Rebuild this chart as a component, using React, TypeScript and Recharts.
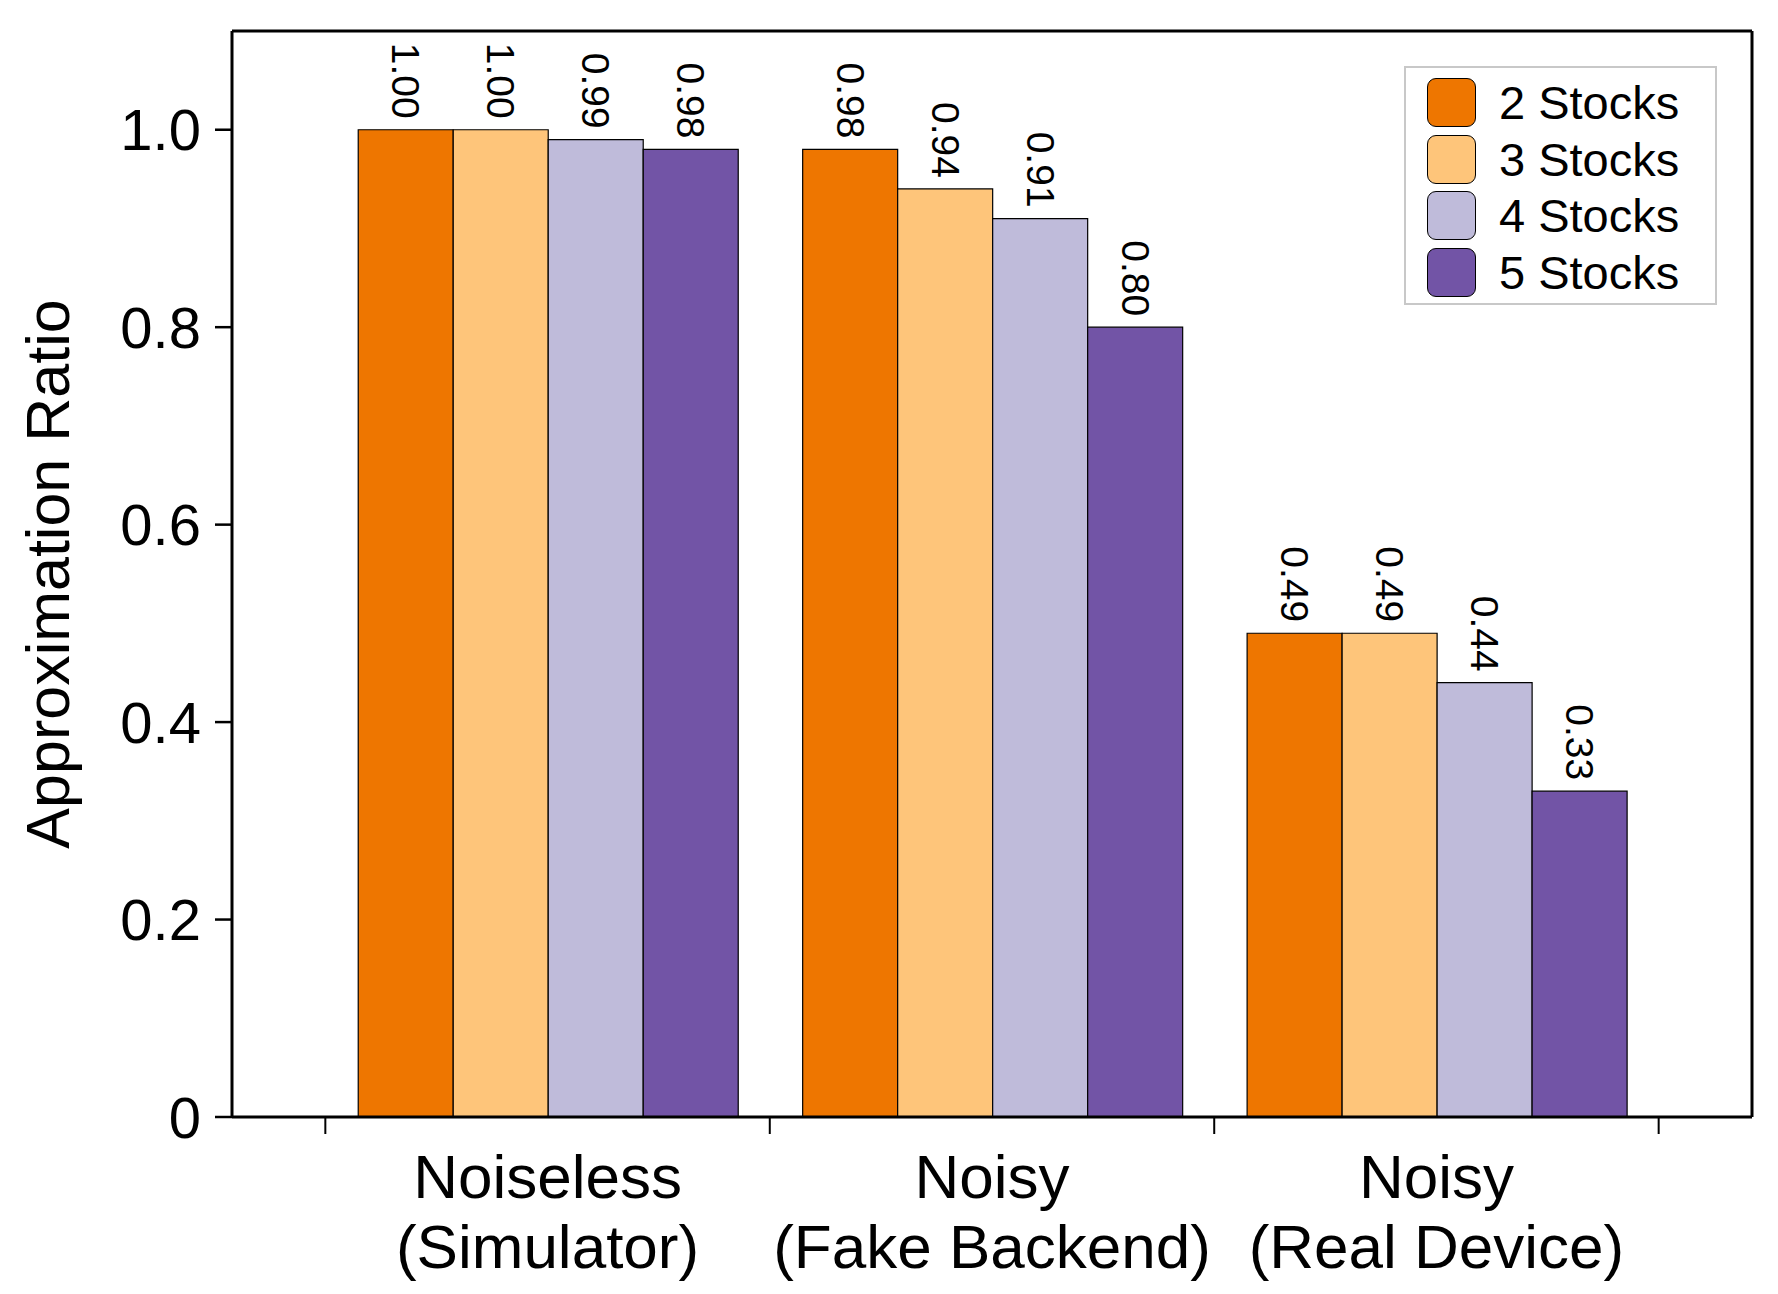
import React from 'react';
import { BarChart, Bar, Line, XAxis, YAxis, Legend, LabelList } from 'recharts';

// groups along the x axis (two-line labels)
const groupTop = ['Noiseless', 'Noisy', 'Noisy'];
const groupBottom = ['(Simulator)', '(Fake Backend)', '(Real Device)'];

// approximation ratio per number of stocks
const stocks2 = [1.0, 0.98, 0.49];
const stocks3 = [1.0, 0.94, 0.49];
const stocks4 = [0.99, 0.91, 0.44];
const stocks5 = [0.98, 0.8, 0.33];

const seriesNames = ['2 Stocks', '3 Stocks', '4 Stocks', '5 Stocks'];
const seriesKeys = ['s2', 's3', 's4', 's5'];
const seriesColors = ['#EE7600', '#FEC57A', '#BFBBDA', '#7254A6'];

const yTicks = [0, 0.2, 0.4, 0.6, 0.8, 1.0];

const data = groupTop.map((g, i) => ({
  group: `${g} ${groupBottom[i]}`,
  top: g,
  bottom: groupBottom[i],
  s2: stocks2[i],
  s3: stocks3[i],
  s4: stocks4[i],
  s5: stocks5[i],
}));

const W = 1778;
const H = 1294;
const M = { top: 30, right: 25, left: 0, bottom: 0 };
const Y_W = 232;
const X_H = 177;
const FONT = '"Liberation Sans", Arial, Helvetica, sans-serif';
const FRAME = { stroke: '#000', strokeWidth: 3 };

// empty space beside the outer groups, as a fraction of one group's band
const SIDE = 0.21;
const plotW = W - M.left - M.right - 1 - Y_W;
const band = plotW / (groupTop.length + 2 * SIDE);
const sidePx = band * SIDE;

function GroupTick(props: any) {
  const { x, y, payload, index } = props;
  const i = typeof index === 'number' ? index : payload.index;
  const row = data[i] ?? data.find((d) => d.group === payload.value);
  const left = x - band / 2;
  const right = x + band / 2;
  return (
    <g>
      <line x1={left} x2={left} y1={y} y2={y + 17} stroke="#000" strokeWidth={2} />
      {i === data.length - 1 && <line x1={right} x2={right} y1={y} y2={y + 17} stroke="#000" strokeWidth={2} />}
      <text x={x} y={y + 81} textAnchor="middle" fontSize={62} fontFamily={FONT} fill="#000">
        {row?.top}
      </text>
      <text x={x} y={y + 151} textAnchor="middle" fontSize={62} fontFamily={FONT} fill="#000">
        {row?.bottom}
      </text>
    </g>
  );
}

function YLabel(props: any) {
  const { viewBox } = props;
  const cx = viewBox.x + 48;
  const cy = viewBox.y + viewBox.height / 2;
  return (
    <text
      x={cx}
      y={cy}
      transform={`rotate(-90, ${cx}, ${cy})`}
      textAnchor="middle"
      dominantBaseline="central"
      fontSize={61}
      fontFamily={FONT}
      fill="#000"
    >
      Approximation Ratio
    </text>
  );
}

function ValueLabel(props: any) {
  const { x, y, width, value } = props;
  const cx = x + width / 2;
  const ty = y - 11;
  return (
    <text
      x={cx}
      y={ty}
      transform={`rotate(90, ${cx}, ${ty})`}
      textAnchor="end"
      dominantBaseline="central"
      fontSize={39}
      fontFamily={FONT}
      fill="#000"
    >
      {Number(value).toFixed(2)}
    </text>
  );
}

function LegendBox(props: any) {
  const items = (props.payload ?? []).filter((it: any) => it.type !== 'none');
  return (
    <div
      style={{
        border: '2.5px solid #c8c8c8',
        background: '#fff',
        padding: '6px 20px 2px 21px',
        boxSizing: 'border-box',
        width: 313,
        fontFamily: FONT,
      }}
    >
      {items.map((it: any) => (
        <div key={it.value} style={{ display: 'flex', alignItems: 'center', height: 56.7 }}>
          <div
            style={{
              width: 49,
              height: 49,
              borderRadius: 9,
              border: '1.5px solid #000',
              boxSizing: 'border-box',
              background: it.color,
            }}
          />
          <span style={{ marginLeft: 23, fontSize: 47, color: '#000', lineHeight: 1 }}>{it.value}</span>
        </div>
      ))}
    </div>
  );
}

export default function App() {
  return (
    <div style={{ width: W, height: H, background: '#fff' }}>
      <style>{'body{margin:0}'}</style>
      <BarChart width={W} height={H} data={data} margin={M} barCategoryGap="7.4%" barGap={0}>
        <XAxis
          dataKey="group"
          height={X_H}
          padding={{ left: sidePx, right: sidePx }}
          interval={0}
          tickSize={0}
          tickMargin={0}
          tickLine={false}
          axisLine={FRAME}
          tick={<GroupTick />}
        />
        <XAxis
          xAxisId="top"
          dataKey="group"
          orientation="top"
          height={1}
          tick={false}
          tickLine={false}
          axisLine={FRAME}
        />
        <YAxis
          width={Y_W}
          domain={[0, 1.1]}
          ticks={yTicks}
          interval={0}
          tickSize={17}
          tickMargin={14}
          tickFormatter={(v: number) => (v === 0 ? '0' : v.toFixed(1))}
          tick={{ fontSize: 58, fontFamily: FONT, fill: '#000' }}
          tickLine={{ stroke: '#000', strokeWidth: 2.5 }}
          axisLine={FRAME}
          label={<YLabel />}
        />
        <YAxis
          yAxisId="right"
          orientation="right"
          width={1}
          domain={[0, 1.1]}
          tick={false}
          tickLine={false}
          axisLine={FRAME}
        />
        <Legend
          layout="vertical"
          align="center"
          verticalAlign="middle"
          content={<LegendBox />}
          wrapperStyle={{ left: 1404, top: 66, width: 313 }}
        />
        {seriesKeys.map((k, i) => (
          <Bar
            key={k}
            dataKey={k}
            name={seriesNames[i]}
            fill={seriesColors[i]}
            stroke="#000"
            strokeWidth={1.2}
            isAnimationActive={false}
          >
            <LabelList dataKey={k} content={<ValueLabel />} />
          </Bar>
        ))}
        {/* invisible series so the top and right frame axes get drawn */}
        <Line
          xAxisId="top"
          yAxisId="right"
          dataKey="s2"
          stroke="none"
          dot={false}
          activeDot={false}
          legendType="none"
          isAnimationActive={false}
        />
      </BarChart>
    </div>
  );
}
